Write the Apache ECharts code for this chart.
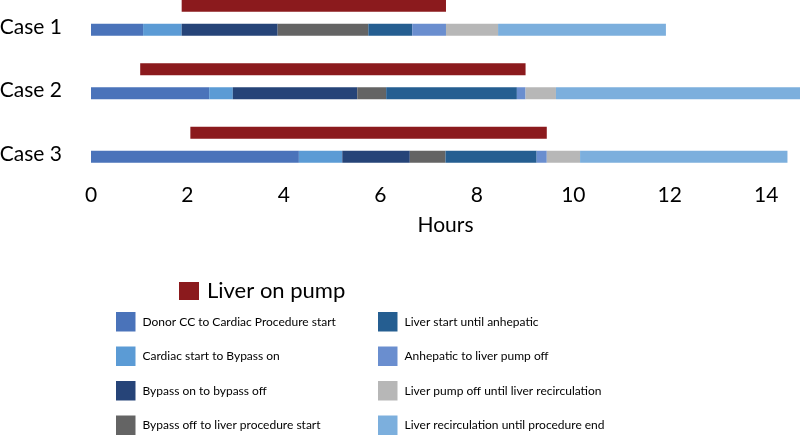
<!DOCTYPE html>
<html>
<head>
<meta charset="utf-8">
<script src="https://cdn.jsdelivr.net/npm/echarts@6/dist/echarts.min.js"></script>
<style>
html,body{margin:0;padding:0;background:#fff;}
#chart{width:800px;height:436px;}
</style>
</head>
<body>
<div id="chart"></div>
<script>
// ---- data (hours) ----
const cases = ['Case 1', 'Case 2', 'Case 3'];
const xTickLabels = ['0', '2', '4', '6', '8', '10', '12', '14'];
const segmentNames = [
  'Donor CC to Cardiac Procedure start',
  'Cardiac start to Bypass on',
  'Bypass on to bypass off',
  'Bypass off to liver procedure start',
  'Liver start until anhepatic',
  'Anhepatic to liver pump off',
  'Liver pump off until liver recirculation',
  'Liver recirculation until procedure end'
];
const donorToCardiac      = [1.08, 2.45, 4.31];
const cardiacToBypass     = [0.80, 0.49, 0.90];
const bypassOnToOff       = [1.99, 2.58, 1.40];
const bypassOffToLiver    = [1.88, 0.60, 0.74];
const liverToAnhepatic    = [0.91, 2.71, 1.89];
const anhepaticToPumpOff  = [0.70, 0.18, 0.21];
const pumpOffToRecirc     = [1.08, 0.63, 0.69];
const recircToEnd         = [3.48, 5.06, 4.30];
const pumpStart = [1.88, 1.02, 2.06];
const pumpEnd   = [7.36, 9.01, 9.45];

const segmentValues = [donorToCardiac, cardiacToBypass, bypassOnToOff, bypassOffToLiver,
  liverToAnhepatic, anhepaticToPumpOff, pumpOffToRecirc, recircToEnd];
const segmentColors = ['#4a73ba', '#5b9bd5', '#264478', '#646464', '#255e91', '#6a8ecf', '#b7b7b7', '#7cafdd'];
const pumpColor = '#8b1a1d';
const FONT = 'Lato';

const pumpDuration = pumpEnd.map((e, i) => +(e - pumpStart[i]).toFixed(2));

const series = [
  { name: 'pumpBase', type: 'bar', stack: 'pump', data: pumpStart, barWidth: 12, barGap: '100%',
    itemStyle: { color: 'transparent' }, silent: true },
  { name: 'Liver on pump', type: 'bar', stack: 'pump', data: pumpDuration, barWidth: 12,
    itemStyle: { color: pumpColor } }
];
segmentNames.forEach((n, i) => {
  series.push({ name: n, type: 'bar', stack: 'seg', data: segmentValues[i], barWidth: 12,
    itemStyle: { color: segmentColors[i] } });
});

const legendText = { fontFamily: FONT, fontSize: 12, color: '#000', padding: [0, 0, 0, 2] };

const chart = echarts.init(document.getElementById('chart'), null, { renderer: 'canvas' });
chart.setOption({
  animation: false,
  backgroundColor: '#fff',
  textStyle: { fontFamily: FONT },
  grid: { left: 91, right: 0, top: -14, height: 190.5, containLabel: false, outerBoundsMode: 'none' },
  xAxis: {
    type: 'value', min: 0, max: 14.7, interval: 2,
    axisLine: { show: false }, axisTick: { show: false }, splitLine: { show: false },
    axisLabel: {
      fontFamily: FONT, fontSize: 21, color: '#000', margin: 8,
      formatter: v => { const k = xTickLabels.indexOf(String(v)); return k >= 0 ? xTickLabels[k] : ''; }
    },
    name: 'Hours', nameLocation: 'middle', nameGap: 38,
    nameTextStyle: { fontFamily: FONT, fontSize: 21, color: '#000' }
  },
  yAxis: {
    type: 'category', data: cases, inverse: true,
    axisLine: { show: false }, axisTick: { show: false },
    axisLabel: { fontFamily: FONT, fontSize: 21, color: '#000', margin: 29, verticalAlign: 'top', lineHeight: 18 }
  },
  legend: [
    { data: ['Liver on pump'], left: 179, top: 280, padding: 0, itemWidth: 20, itemHeight: 18, icon: 'rect',
      selectedMode: false, textStyle: { fontFamily: FONT, fontSize: 22, color: '#000', padding: [0, 0, 0, 3] } },
    { data: segmentNames.slice(0, 4), orient: 'vertical', left: 116, top: 312, height: 150, padding: 0,
      itemWidth: 19.5, itemHeight: 19.5, itemGap: 15, icon: 'rect', selectedMode: false, textStyle: legendText },
    { data: segmentNames.slice(4), orient: 'vertical', left: 378, top: 312, height: 150, padding: 0,
      itemWidth: 19.5, itemHeight: 19.5, itemGap: 15, icon: 'rect', selectedMode: false, textStyle: legendText }
  ],
  series: series
});
</script>
</body>
</html>
